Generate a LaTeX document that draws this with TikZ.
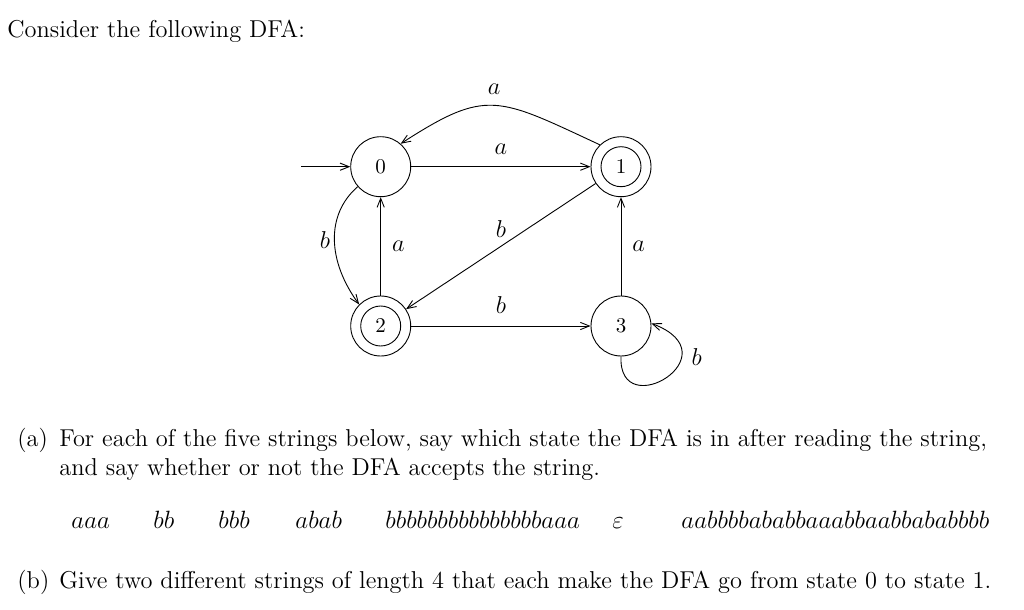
\RequirePackage{fix-cm}
\documentclass[tikz,border=0pt]{standalone}
\usetikzlibrary{arrows.meta}
\begin{document}
\begin{tikzpicture}[x=0.5pt,y=-0.5pt,
  font=\fontsize{12.2}{14.7}\selectfont,
  >={Straight Barb[length=4.5pt,width=3.6pt]},
  every path/.style={line width=0.45pt},
  state/.style={draw,circle,minimum size=30pt,inner sep=0pt,font=\fontsize{10.5}{12}\selectfont},
  lbl/.style={inner sep=1pt},
  txt/.style={anchor=base west,inner sep=0pt},
  word/.style={anchor=base west,inner sep=0pt,font=\fontsize{12.5}{15}\selectfont}]
\useasboundingbox (0,0) rectangle (1024,610);

% heading
\node[txt] (head) at (7,38) {Consider the following DFA:};

% states
\node[state] (s0) at (380.7,166.7) {0};
\node[state] (s1) at (621,166.7) {1};
\node[state] (s2) at (380.7,326) {2};
\node[state] (s3) at (621,326) {3};
\draw (s1.center) circle[radius=10pt];
\draw (s2.center) circle[radius=10pt];

\coordinate (init) at (301,166.7);
\draw[->] (init) -- (s0);

\draw[->] (s0) -- node[lbl,above=5pt] {$a$} (s1);
\draw[->] (s1.134) .. controls (497,97) and (487,88) .. node[lbl,pos=0.5,above=4pt] {$a$} (s0.49);
\draw[->] (s0.221) .. controls (325,215) and (328,262) .. node[lbl,pos=0.5,left=1pt] {$b$} (s2.135);
\draw[->] (s2) -- node[lbl,right=4.5pt] {$a$} (s0);
\draw[->] (s1) -- node[lbl,pos=0.5,above=3pt] {$b$} (s2);
\draw[->] (s2) -- node[lbl,above=5pt] {$b$} (s3);
\draw[->] (s3) -- node[lbl,right=4.5pt] {$a$} (s1);
\draw[->] (s3.270) .. controls (618,425) and (735,355) .. node[lbl,pos=0.7,right=4pt] {$b$} (s3.5);

% part (a)
\node[txt] (pa) at (17,446) {(a)};
\node[txt] (pa1) at (59,446) {For each of the five strings below, say which state the DFA is in after reading the string,};
\node[txt] (pa2) at (59,475) {and say whether or not the DFA accepts the string.};

% strings
\node[word] (w1) at (71,528) {$aaa$};
\node[word] (w2) at (153,528) {$bb$};
\node[word] (w3) at (218,528) {$bbb$};
\node[word] (w4) at (295,528) {$abab$};
\node[word] (w5) at (385,528) {$bbbbbbbbbbbbbbbaaa$};
\node[word] (w6) at (612,528) {$\varepsilon$};
\node[word] (w7) at (681,528) {$aabbbbababbaaabbaabbababbbb$};

% part (b)
\node[txt] (pb) at (17,588) {(b)};
\node[txt] (pb1) at (59,588) {Give two different strings of length 4 that each make the DFA go from state 0 to state 1.};
\end{tikzpicture}
\end{document}
